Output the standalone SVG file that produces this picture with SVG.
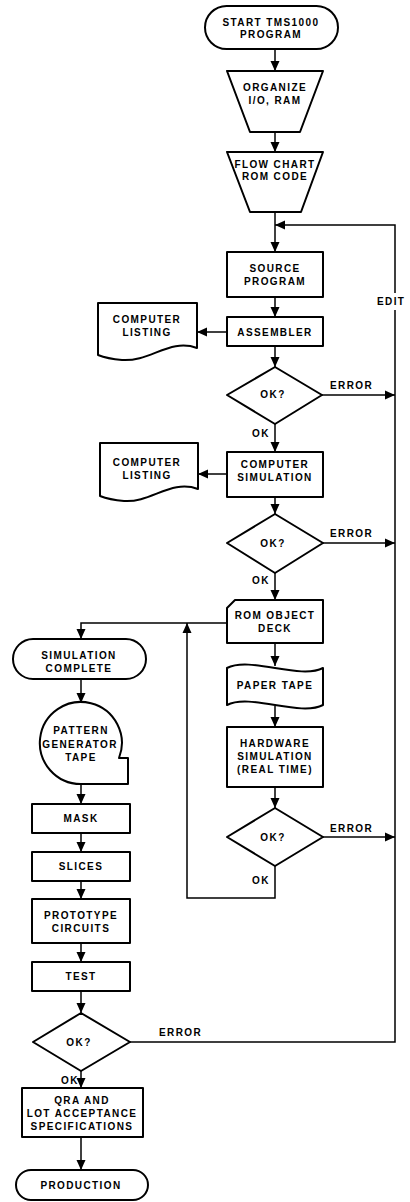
<svg xmlns="http://www.w3.org/2000/svg" width="410" height="1202" viewBox="0 0 410 1202">
<defs>
<marker id="arr" markerUnits="userSpaceOnUse" markerWidth="10" markerHeight="10" refX="10" refY="5" orient="auto" viewBox="0 0 10 10">
<path d="M0,0.5 L10,5 L0,9.5 Z" fill="#000"/>
</marker>
</defs>
<style>
.n{fill:#fff;stroke:#000;stroke-width:2;stroke-linejoin:round}
.c{fill:none;stroke:#000;stroke-width:1.5}
.a{marker-end:url(#arr)}
text{font-family:"Liberation Sans",Arial,sans-serif;font-weight:bold;font-size:10px;letter-spacing:1.4px;fill:#000}
.m{text-anchor:middle}
</style>
<rect x="0" y="0" width="410" height="1202" fill="#fff"/>
<g id="connectors">
<path class="c a" d="M275,49 V71"/>
<path class="c a" d="M275,132 V152"/>
<path class="c a" d="M275,212 V252"/>
<path class="c a" d="M275,297 V317"/>
<path class="c a" d="M227,332 H197"/>
<path class="c a" d="M275,346 V367"/>
<path class="c a" d="M322,395 H395"/>
<path class="c a" d="M275,424 V452"/>
<path class="c a" d="M227,474 H198"/>
<path class="c a" d="M275,497 V514"/>
<path class="c a" d="M323,543 H395"/>
<path class="c a" d="M275,573 V600"/>
<path class="c a" d="M227,623 H81 V639"/>
<path class="c a" d="M275,643 V666"/>
<path class="c a" d="M275,706 V727"/>
<path class="c a" d="M275,787 V808"/>
<path class="c a" d="M323,837 H395"/>
<path class="c a" d="M275,866 V898 H187 V623"/>
<path class="c a" d="M81,679 V703"/>
<path class="c a" d="M81,784 V804"/>
<path class="c a" d="M81,833 V852"/>
<path class="c a" d="M81,881 V899"/>
<path class="c a" d="M81,943 V962"/>
<path class="c a" d="M81,991 V1013"/>
<path class="c a" d="M130,1042 H395 V225 H275"/>
<path class="c a" d="M81,1071 V1088"/>
<path class="c a" d="M81,1137 V1170"/>
<rect x="389" y="293" width="12" height="17" fill="#fff"/>
<text x="377" y="305">EDIT</text>
<text x="330" y="389">ERROR</text>
<text x="330" y="537">ERROR</text>
<text x="330" y="832">ERROR</text>
<text x="159" y="1036">ERROR</text>
<text x="252" y="437">OK</text>
<text x="252" y="584">OK</text>
<text x="252" y="884">OK</text>
<text x="61" y="1084">OK</text>
</g>
<g id="start">
<rect class="n" x="205" y="6" width="133" height="43" rx="21.5"/>
<text class="m" x="271" y="26">START TMS1000</text>
<text class="m" x="271" y="38">PROGRAM</text>
</g>
<g id="organize">
<path class="n" d="M227,71 H323 L300,132 H250 Z"/>
<text class="m" x="275" y="91">ORGANIZE</text>
<text class="m" x="275" y="104">I/O, RAM</text>
</g>
<g id="flowchart">
<path class="n" d="M227,152 H323 L301,212 H250 Z"/>
<text class="m" x="275" y="168">FLOW CHART</text>
<text class="m" x="275" y="180">ROM CODE</text>
</g>
<g id="source">
<rect class="n" x="227" y="252" width="96" height="45"/>
<text class="m" x="275" y="272">SOURCE</text>
<text class="m" x="275" y="285">PROGRAM</text>
</g>
<g id="assembler">
<rect class="n" x="227" y="317" width="96" height="29"/>
<text class="m" x="275" y="336">ASSEMBLER</text>
</g>
<g id="listing1">
<path class="n" d="M98,303 H197 V348 C170,338 150,362 122,360 C110,359 103,357 98,355 Z"/>
<text class="m" x="147" y="323">COMPUTER</text>
<text class="m" x="147" y="336">LISTING</text>
</g>
<g id="ok1">
<path class="n" d="M275,367 L322,395 L275,424 L227,395 Z"/>
<text class="m" x="273" y="398">OK?</text>
</g>
<g id="compsim">
<rect class="n" x="227" y="452" width="96" height="45"/>
<text class="m" x="275" y="468">COMPUTER</text>
<text class="m" x="275" y="481">SIMULATION</text>
</g>
<g id="listing2">
<path class="n" d="M100,443 H198 V489 C171,479 151,503 124,501 C112,500 105,498 100,496 Z"/>
<text class="m" x="147" y="466">COMPUTER</text>
<text class="m" x="147" y="479">LISTING</text>
</g>
<g id="ok2">
<path class="n" d="M275,514 L323,543 L275,573 L227,543 Z"/>
<text class="m" x="273" y="547">OK?</text>
</g>
<g id="romdeck">
<path class="n" d="M227,608 L235,600 H323 V643 H227 Z"/>
<text class="m" x="275" y="619">ROM OBJECT</text>
<text class="m" x="275" y="632">DECK</text>
</g>
<g id="papertape">
<path class="n" d="M227,668 C250,656 300,680 323,668 V705 C300,717 250,693 227,705 Z"/>
<text class="m" x="275" y="689">PAPER TAPE</text>
</g>
<g id="hwsim">
<rect class="n" x="227" y="727" width="96" height="60"/>
<text class="m" x="275" y="747">HARDWARE</text>
<text class="m" x="275" y="760">SIMULATION</text>
<text class="m" x="275" y="773">(REAL TIME)</text>
</g>
<g id="ok3">
<path class="n" d="M275,808 L323,837 L275,866 L227,837 Z"/>
<text class="m" x="273" y="841">OK?</text>
</g>
<g id="simcomplete">
<rect class="n" x="13" y="639" width="133" height="40" rx="20"/>
<text class="m" x="79" y="659">SIMULATION</text>
<text class="m" x="79" y="672">COMPLETE</text>
</g>
<g id="pgtape">
<path class="n" d="M81,784 A41,41 0 1 1 119,758 L128,758 V784 Z"/>
<text class="m" x="81" y="734">PATTERN</text>
<text class="m" x="80" y="748">GENERATOR</text>
<text class="m" x="81" y="761">TAPE</text>
</g>
<g id="mask">
<rect class="n" x="32" y="804" width="98" height="29"/>
<text class="m" x="81" y="822">MASK</text>
</g>
<g id="slices">
<rect class="n" x="32" y="852" width="98" height="29"/>
<text class="m" x="81" y="870">SLICES</text>
</g>
<g id="prototype">
<rect class="n" x="32" y="899" width="98" height="44"/>
<text class="m" x="81" y="919">PROTOTYPE</text>
<text class="m" x="81" y="932">CIRCUITS</text>
</g>
<g id="test">
<rect class="n" x="32" y="962" width="98" height="29"/>
<text class="m" x="81" y="980">TEST</text>
</g>
<g id="ok4">
<path class="n" d="M81,1013 L130,1042 L81,1071 L33,1042 Z"/>
<text class="m" x="79" y="1046">OK?</text>
</g>
<g id="qra">
<rect class="n" x="22" y="1088" width="121" height="49"/>
<text class="m" x="82" y="1104">QRA AND</text>
<text class="m" x="82" y="1117">LOT ACCEPTANCE</text>
<text class="m" x="82" y="1130">SPECIFICATIONS</text>
</g>
<g id="production">
<rect class="n" x="16" y="1170" width="132" height="30" rx="15"/>
<text class="m" x="81" y="1189">PRODUCTION</text>
</g>
</svg>
